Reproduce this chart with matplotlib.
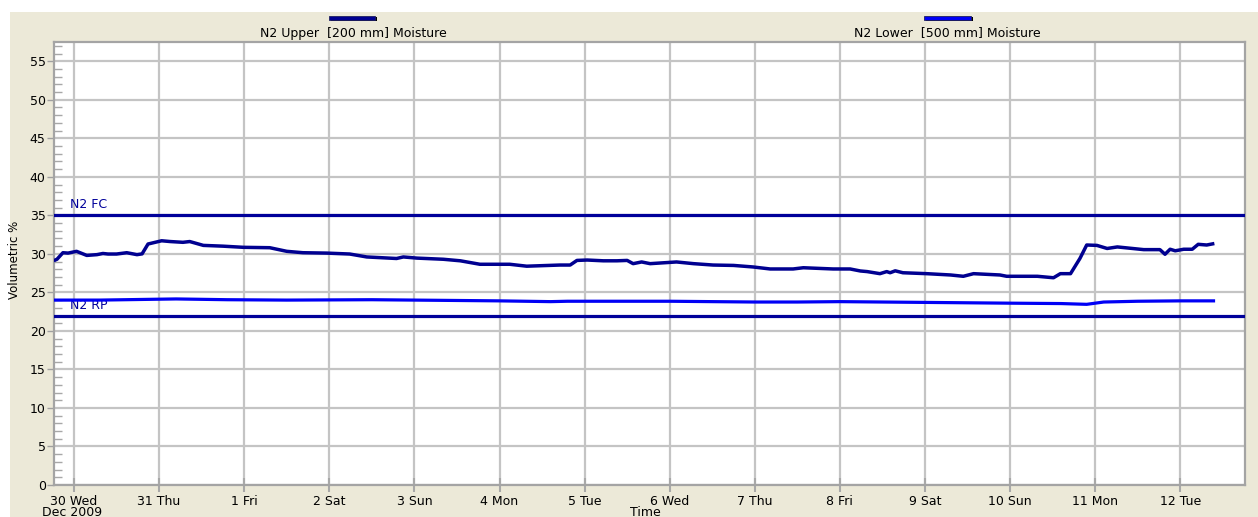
import matplotlib
matplotlib.use('Agg')
import matplotlib.pyplot as plt
from matplotlib.patches import Rectangle

plt.rcParams['font.family'] = ['DejaVu Sans']

# days since 30 Dec 2009 00:00
day_labels = ['30 Wed', '31 Thu', '1 Fri', '2 Sat', '3 Sun', '4 Mon', '5 Tue',
              '6 Wed', '7 Thu', '8 Fri', '9 Sat', '10 Sun', '11 Mon', '12 Tue']

upper_t = [-0.22, -0.20, -0.13, -0.07, 0.03, 0.15, 0.27, 0.34, 0.40, 0.50, 0.62,
           0.74, 0.80, 0.87, 1.03, 1.13, 1.28, 1.36, 1.52, 1.75, 1.99, 2.30,
           2.50, 2.69, 2.97, 3.24, 3.44, 3.79, 3.87, 4.03, 4.34, 4.54, 4.77,
           5.12, 5.32, 5.71, 5.83, 5.91, 6.03, 6.22, 6.38, 6.50, 6.57, 6.67,
           6.77, 7.08, 7.28, 7.51, 7.75, 7.98, 8.18, 8.45, 8.57, 8.92, 9.12,
           9.24, 9.32, 9.47, 9.55, 9.59, 9.65, 9.74, 10.02, 10.30, 10.45,
           10.57, 10.88, 10.96, 11.32, 11.51, 11.59, 11.71, 11.82, 11.90,
           12.02, 12.14, 12.26, 12.57, 12.76, 12.82, 12.88, 12.94, 13.04,
           13.14, 13.21, 13.31, 13.38]
upper_v = [29.2, 29.3, 30.15, 30.1, 30.33, 29.8, 29.9, 30.05, 29.98, 29.98, 30.15,
           29.9, 30.0, 31.28, 31.7, 31.6, 31.5, 31.6, 31.1, 31.0, 30.85, 30.8,
           30.33, 30.15, 30.1, 29.98, 29.6, 29.4, 29.6, 29.45, 29.3, 29.1, 28.65,
           28.65, 28.4, 28.55, 28.55, 29.15, 29.2, 29.1, 29.1, 29.15, 28.73, 28.95,
           28.73, 28.95, 28.73, 28.55, 28.5, 28.3, 28.04, 28.04, 28.2, 28.04, 28.04,
           27.78, 27.7, 27.43, 27.7, 27.55, 27.8, 27.55, 27.43, 27.26, 27.09,
           27.43, 27.26, 27.09, 27.09, 26.9, 27.43, 27.43, 29.4, 31.15,
           31.1, 30.7, 30.9, 30.55, 30.55, 29.95, 30.6, 30.4, 30.6,
           30.6, 31.24, 31.15, 31.3]

lower_t = [-0.22, 0.3, 0.9, 1.2, 1.8, 2.5, 3.5, 4.0, 5.0, 5.6, 5.8, 7.0, 8.0,
           8.5, 9.0, 10.0, 11.0, 11.6, 11.9, 12.1, 12.5, 13.0, 13.39]
lower_v = [24.0, 24.0, 24.1, 24.15, 24.05, 24.0, 24.05, 24.0, 23.9, 23.8,
           23.85, 23.85, 23.75, 23.75, 23.8, 23.7, 23.6, 23.55, 23.45, 23.75,
           23.85, 23.9, 23.9]

fc_level = 35
rp_level = 22

W, H = 1258, 517
fx = lambda x: x / W
fy = lambda y: 1 - y / H

fig = plt.figure(figsize=(W / 100, H / 100), dpi=100)
fig.patch.set_facecolor('white')
fig.add_artist(Rectangle((fx(10), 0), 1 - fx(10), fy(12), transform=fig.transFigure,
                         facecolor='#ECE9D8', edgecolor='none', zorder=-10))

ax = fig.add_axes([fx(54), fy(485), fx(1191), 443 / H])
ax.set_facecolor('white')

ax.axhline(fc_level, color='#00009A', lw=2.3, zorder=3)
ax.axhline(rp_level, color='#00009A', lw=2.3, zorder=3)
ax.text(-0.05, fc_level + 0.5, 'N2 FC', color='#00009A', fontsize=9, va='bottom')
ax.text(-0.05, rp_level + 0.5, 'N2 RP', color='#00009A', fontsize=9, va='bottom')

ax.plot(lower_t, lower_v, color='#0000F5', lw=2.3, zorder=4)
ax.plot(upper_t, upper_v, color='#000090', lw=2.5, zorder=5)

ax.set_xlim(-0.235, 13.76)
ax.set_ylim(0, 57.5)
ax.set_xticks(range(len(day_labels)))
ax.set_xticklabels(day_labels, fontsize=9)
ax.set_yticks(range(0, 56, 5))
ax.set_yticks(range(0, 58), minor=True)
ax.tick_params(axis='y', which='major', labelsize=9, direction='out', length=5,
               color='#A0A0A0', width=1, pad=1)
ax.tick_params(axis='y', which='minor', direction='in', length=6, color='#A8A8A8',
               width=1, right=False)
ax.tick_params(axis='x', which='major', direction='inout', length=10, color='#A8A8A8',
               width=1.5, pad=2)
ax.grid(True, which='major', color='#C4C4C4', lw=1.6, zorder=0)
ax.set_axisbelow(True)
for s in ax.spines.values():
    s.set_color('#A4A4A4')
    s.set_linewidth(1.6)

ax.set_ylabel('Volumetric %', fontsize=8.5)
ax.yaxis.set_label_coords((21 - 54) / 1191, (485 - 260) / 443)

fig.text(fx(72), fy(512), 'Dec 2009', fontsize=9, ha='center', va='center')
fig.text(fx(645), fy(513), 'Time', fontsize=9, ha='center', va='center')

# legend entries above the plot
legend_items = [(329, 375, '#000090', 'N2 Upper  [200 mm] Moisture', 353),
                (924, 971, '#0000F5', 'N2 Lower  [500 mm] Moisture', 947)]
for x0, x1, col, label, tx in legend_items:
    fig.add_artist(Rectangle((fx(x0 + 2), fy(21)), fx(x1 - x0), 4 / H,
                             transform=fig.transFigure, facecolor='black',
                             edgecolor='none'))
    fig.add_artist(Rectangle((fx(x0), fy(19.5)), fx(x1 - x0), 4 / H,
                             transform=fig.transFigure, facecolor=col,
                             edgecolor='#202060', lw=0.6))
    fig.text(fx(tx), fy(33), label, fontsize=9, ha='center', va='center')

fig.savefig('out.png', dpi=100)
